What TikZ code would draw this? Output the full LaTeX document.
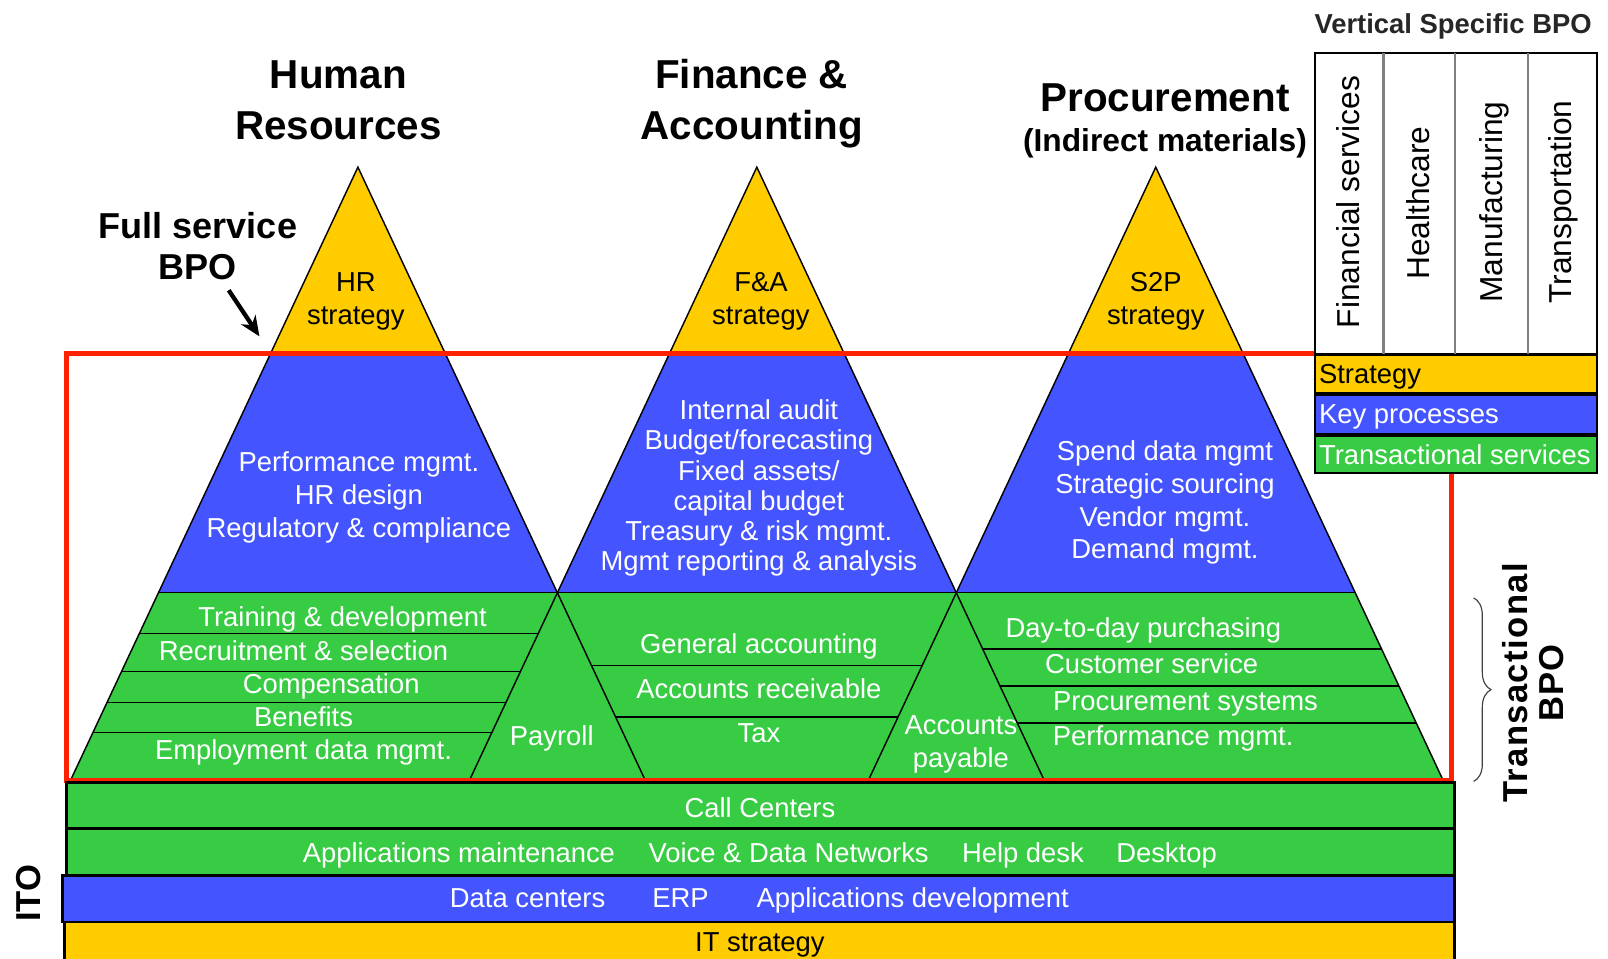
\documentclass[tikz,border=0pt]{standalone}
\usepackage{fontspec}
\setmainfont{Liberation Sans}
\usetikzlibrary{decorations.pathreplacing,arrows.meta}
\definecolor{yel}{RGB}{255,204,0}
\definecolor{blu}{RGB}{68,84,255}
\definecolor{grn}{RGB}{56,204,68}
\definecolor{redC}{RGB}{255,34,0}
\begin{document}
\begin{tikzpicture}[x=0.025cm,y=-0.025cm,
  txt/.style={font=\fontsize{19}{22.8}\selectfont, text=white, align=center, inner sep=0pt},
  btxt/.style={txt, text=black},
  one/.style={text height=0.76em, text depth=0pt, yshift=-2.8pt},
  ttl/.style={font=\fontsize{28}{35}\selectfont\bfseries, align=center, inner sep=0pt},
  edgeln/.style={draw=black, line width=1pt},
  band/.style={draw=black, line width=2pt},
  legtxt/.style={font=\fontsize{19}{22.8}\selectfont, anchor=west, inner sep=0pt, one},
  vtxt/.style={font=\fontsize{22}{26}\selectfont, rotate=90, inner sep=0pt, text height=0.76em, text depth=0pt}]
\useasboundingbox (0,0) rectangle (1568,935);

% apexes
\coordinate (hrA) at (349,163);
\coordinate (faA) at (738,163);
\coordinate (spA) at (1127,163);

% fills
\fill[yel] (hrA) -- (263.7,345) -- (434.3,345) -- cycle;
\fill[yel] (faA) -- (652.7,345) -- (823.3,345) -- cycle;
\fill[yel] (spA) -- (1041.7,345) -- (1212.3,345) -- cycle;
\fill[blu] (263.7,345) -- (434.3,345) -- (543.5,578) -- (154.5,578) -- cycle;
\fill[blu] (652.7,345) -- (823.3,345) -- (932.5,578) -- (543.5,578) -- cycle;
\fill[blu] (1041.7,345) -- (1212.3,345) -- (1321.5,578) -- (932.5,578) -- cycle;
\fill[grn] (154.5,578) -- (1321.5,578) -- (1406.8,760) -- (69.2,760) -- cycle;

% pyramid edges
\draw[edgeln] (69.2,760) -- (hrA) -- (628.8,760);
\draw[edgeln] (458.2,760) -- (faA) -- (1017.8,760);
\draw[edgeln] (847.2,760) -- (spA) -- (1406.8,760);
\draw[edgeln] (154.5,578) -- (1321.5,578);
% HR layers
\draw[edgeln] (135.8,618) -- (524.8,618);
\draw[edgeln] (118.4,655) -- (507.4,655);
\draw[edgeln] (104.4,685) -- (493.4,685);
\draw[edgeln] (90.8,714) -- (479.8,714);
% F&A layers
\draw[edgeln] (576.8,649) -- (899.2,649);
\draw[edgeln] (600.2,699) -- (875.8,699);
% S2P layers
\draw[edgeln] (958.3,633) -- (1347.3,633);
\draw[edgeln] (975.2,669) -- (1364.2,669);
\draw[edgeln] (992.0,705) -- (1381.0,705);

% red frame
\draw[draw=redC, line width=3.6pt] (65,345) rectangle (1415,761);

% bottom bands
\draw[band, fill=grn] (65,763) rectangle (1418,808);
\draw[band, fill=grn] (65,808) rectangle (1418,854);
\draw[band, fill=blu] (61,854) rectangle (1418,899);
\draw[band, fill=yel] (63,899) rectangle (1418,950);

% titles
\node[ttl] (tHR) at (330,98) {Human\\Resources};
\node[ttl] (tFA) at (733,101) {Finance \&\\Accounting};
\node[ttl, one] (tPR) at (1136,99) {Procurement};
\node[font=\fontsize{22}{26}\selectfont\bfseries, inner sep=0pt, one] (tPR2) at (1136,138) {(Indirect materials)};
\node[font=\fontsize{25}{29}\selectfont\bfseries, align=center, inner sep=0pt] (fsb) at (193,240) {Full service\\BPO};
\coordinate (arrEnd) at (253,328);
\draw[line width=3pt, -{Stealth[length=14pt,width=12pt]}] (223,283) -- (arrEnd);

% strategy texts
\node[btxt] (hrS) at (347,294) {HR\\strategy};
\node[btxt] (faS) at (742,294) {F\&A\\strategy};
\node[btxt] (spS) at (1127,294) {S2P\\strategy};

% key processes
\node[txt] (hrK) at (350,485) {Performance mgmt.\\HR design\\Regulatory \& compliance};
\node[txt, font=\fontsize{19}{21}\selectfont] (faK) at (740,476) {Internal audit\\Budget/forecasting\\Fixed assets/\\capital budget\\Treasury \& risk mgmt.\\Mgmt reporting \& analysis};
\node[txt] (spK) at (1136,490) {Spend data mgmt\\Strategic sourcing\\Vendor mgmt.\\Demand mgmt.};

% HR transactional
\node[txt, one] (h1) at (334,602) {Training \& development};
\node[txt, one] (h2) at (296,635) {Recruitment \& selection};
\node[txt, one] (h3) at (323,667) {Compensation};
\node[txt, one] (h4) at (296,699) {Benefits};
\node[txt, one] (h5) at (296,731) {Employment data mgmt.};
\node[txt, one] (pay) at (538,718) {Payroll};
% F&A transactional
\node[txt, one] (f1) at (740,628) {General accounting};
\node[txt, one] (f2) at (740,672) {Accounts receivable};
\node[txt, one] (f3) at (740,715) {Tax};
\node[txt] (ap) at (937,726) {Accounts\\payable};
% S2P transactional
\node[txt, one] (s1) at (1115,612) {Day-to-day purchasing};
\node[txt, one] (s2) at (1123,647) {Customer service};
\node[txt, one] (s3) at (1156,684) {Procurement systems};
\node[txt, one] (s4) at (1144,718) {Performance mgmt.};

% band texts
\node[txt, one] (cc) at (741,788) {Call Centers};
\node[txt, one] (b1) at (447.5,832) {Applications maintenance};
\node[txt, one] (b2) at (769,832) {Voice \& Data Networks};
\node[txt, one] (b3) at (997.5,832) {Help desk};
\node[txt, one] (b4) at (1137.5,832) {Desktop};
\node[txt, one] (c1) at (514.5,876) {Data centers};
\node[txt, one] (c2) at (663.5,876) {ERP};
\node[txt, one] (c3) at (890,876) {Applications development};
\node[btxt, one] (its) at (741,919) {IT strategy};

% side labels
\node[font=\fontsize{24}{28}\selectfont\bfseries, rotate=90, inner sep=0pt] (ito) at (28,871) {ITO};
\node[font=\fontsize{24}{25}\selectfont\bfseries, rotate=90, align=center, inner sep=0pt] (tbpo) at (1495,666) {\addfontfeature{LetterSpace=4}Transactional\\\addfontfeature{LetterSpace=4}BPO};
\coordinate (brTop) at (1437,583);
\coordinate (brBot) at (1437,762);
\draw[line width=0.8pt, black!75, decorate, decoration={brace, amplitude=12pt}] (brTop) -- (brBot);

% vertical specific legend
\node[font=\fontsize{19}{22}\selectfont\bfseries, text=black!85, inner sep=0pt, one] (vsb) at (1417,23) {Vertical Specific BPO};
\draw[draw=black, line width=1.2pt, fill=white] (1282,52) rectangle (1557,345);
\draw[draw=gray, line width=1.5pt] (1349,52) -- (1349,345);
\draw[draw=gray, line width=1.5pt] (1419,52) -- (1419,345);
\draw[draw=gray, line width=1.5pt] (1490,52) -- (1490,345);
\node[vtxt] (v1) at (1320,197) {Financial services};
\node[vtxt] (v2) at (1389,198) {Healthcare};
\node[vtxt] (v3) at (1460,197) {Manufacturing};
\node[vtxt] (v4) at (1527,197) {Transportation};
\draw[draw=black, line width=1.5pt, fill=yel] (1282,346) rectangle (1557,383);
\draw[draw=black, line width=1.5pt, fill=blu] (1282,385) rectangle (1557,423);
\draw[draw=black, line width=1.5pt, fill=grn] (1282,425) rectangle (1557,461);
\node[legtxt] (l1) at (1286,365) {Strategy};
\node[legtxt, text=white] (l2) at (1286,404) {Key processes};
\node[legtxt, text=white] (l3) at (1286,444) {Transactional services};
\end{tikzpicture}
\end{document}
